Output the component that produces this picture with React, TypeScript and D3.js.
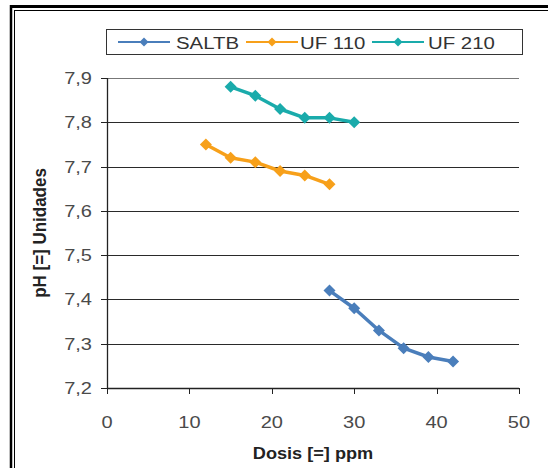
import React from "react";
import * as d3 from "d3";

const saltbX = [27, 30, 33, 36, 39, 42];
const saltbY = [7.42, 7.38, 7.33, 7.29, 7.27, 7.26];
const uf110X = [12, 15, 18, 21, 24, 27];
const uf110Y = [7.75, 7.72, 7.71, 7.69, 7.68, 7.66];
const uf210X = [15, 18, 21, 24, 27, 30];
const uf210Y = [7.88, 7.86, 7.83, 7.81, 7.81, 7.8];
const seriesNames = ["SALTB", "UF 110", "UF 210"];
const seriesColors = ["#4A7EBB", "#F7A01A", "#1AABAB"];
const xTicks = [0, 10, 20, 30, 40, 50];
const yTicks = [7.2, 7.3, 7.4, 7.5, 7.6, 7.7, 7.8, 7.9];

const W = 548;
const H = 468;
const FONT = "'Liberation Sans', Arial, sans-serif";

export default function App() {
  const x = d3.scaleLinear().domain([0, 50]).range([107, 519]);
  const y = d3.scaleLinear().domain([7.2, 7.9]).range([388, 78]);
  const series = [
    { xs: saltbX, ys: saltbY },
    { xs: uf110X, ys: uf110Y },
    { xs: uf210X, ys: uf210Y },
  ];
  const line = d3
    .line<[number, number]>()
    .x((d) => x(d[0]))
    .y((d) => y(d[1]));
  const diamond = (cx: number, cy: number, r: number) =>
    `M${cx},${cy - r}L${cx + r},${cy}L${cx},${cy + r}L${cx - r},${cy}Z`;
  const fmt = (v: number) => v.toFixed(1).replace(".", ",");

  const legendItems = [
    { lx: 118, tx: 176 },
    { lx: 246, tx: 300 },
    { lx: 372, tx: 428 },
  ];

  return (
    <svg
      width={W}
      height={H}
      style={{ position: "fixed", left: 0, top: 0, background: "#fff" }}
      fontFamily={FONT}
    >
      <rect x={0} y={0} width={W} height={H} fill="#fff" />
      {/* frame */}
      <line x1={11} y1={6.5} x2={W} y2={6.5} stroke="#000" strokeWidth={3} />
      <line x1={11} y1={5} x2={11} y2={H} stroke="#000" strokeWidth={2.5} />
      <line x1={14.5} y1={10.5} x2={W} y2={10.5} stroke="#000" strokeWidth={1} />
      <line x1={14.5} y1={10} x2={14.5} y2={H} stroke="#000" strokeWidth={1} />

      {/* gridlines */}
      {yTicks.map((t) => (
        <line
          key={"g" + t}
          x1={107}
          x2={519}
          y1={Math.round(y(t)) + 0.5}
          y2={Math.round(y(t)) + 0.5}
          stroke={t === 7.9 ? "#777" : "#2a2a2a"}
          strokeWidth={1}
        />
      ))}
      {/* axes */}
      <line x1={107.5} x2={107.5} y1={y(7.9)} y2={y(7.2)} stroke="#222" strokeWidth={1.3} />
      <line x1={107} x2={519} y1={388.5} y2={388.5} stroke="#222" strokeWidth={1.3} />
      {yTicks.map((t) => (
        <line
          key={"yt" + t}
          x1={101}
          x2={107}
          y1={Math.round(y(t)) + 0.5}
          y2={Math.round(y(t)) + 0.5}
          stroke="#222"
        />
      ))}
      {xTicks.map((t) => (
        <line
          key={"xt" + t}
          x1={Math.round(x(t)) + 0.5}
          x2={Math.round(x(t)) + 0.5}
          y1={388}
          y2={394}
          stroke="#222"
        />
      ))}
      {/* tick labels */}
      {yTicks.map((t) => (
        <text
          key={"yl" + t}
          transform={`translate(92,${y(t) + 6}) scale(1.25,1)`}
          textAnchor="end"
          fontSize={16}
          fill="#4a4a4a"
        >
          {fmt(t)}
        </text>
      ))}
      {xTicks.map((t) => (
        <text
          key={"xl" + t}
          transform={`translate(${x(t)},${428}) scale(1.25,1)`}
          textAnchor="middle"
          fontSize={16}
          fill="#4a4a4a"
        >
          {t}
        </text>
      ))}
      {/* axis titles */}
      <text
        transform={`translate(313,459) scale(1.1,1)`}
        textAnchor="middle"
        fontSize={16.5}
        fontWeight="bold"
        fill="#222"
      >
        Dosis [=] ppm
      </text>
      <text
        transform={`translate(46,233) rotate(-90) scale(1,1.12)`}
        textAnchor="middle"
        fontSize={17}
        fontWeight="bold"
        fill="#222"
      >
        pH [=] Unidades
      </text>

      {/* series */}
      {series.map((s, i) => {
        const pts = s.xs.map((v, j) => [v, s.ys[j]] as [number, number]);
        return (
          <g key={"s" + i}>
            <path d={line(pts) || ""} fill="none" stroke={seriesColors[i]} strokeWidth={3.5} strokeLinejoin="round" />
            {pts.map((p, j) => (
              <path key={j} d={diamond(x(p[0]), y(p[1]), 6)} fill={seriesColors[i]} />
            ))}
          </g>
        );
      })}

      {/* legend */}
      <rect x={106.5} y={29.5} width={416} height={25} fill="#fff" stroke="#333" strokeWidth={1} />
      {legendItems.map((it, i) => (
        <g key={"l" + i}>
          <line x1={it.lx} x2={it.lx + 52} y1={42} y2={42} stroke={seriesColors[i]} strokeWidth={2} />
          <path d={diamond(it.lx + 26, 42, 4.5)} fill={seriesColors[i]} />
          <text
            transform={`translate(${it.tx},${48.5}) scale(1.2,1)`}
            fontSize={17}
            fill="#333"
          >
            {seriesNames[i]}
          </text>
        </g>
      ))}
    </svg>
  );
}
